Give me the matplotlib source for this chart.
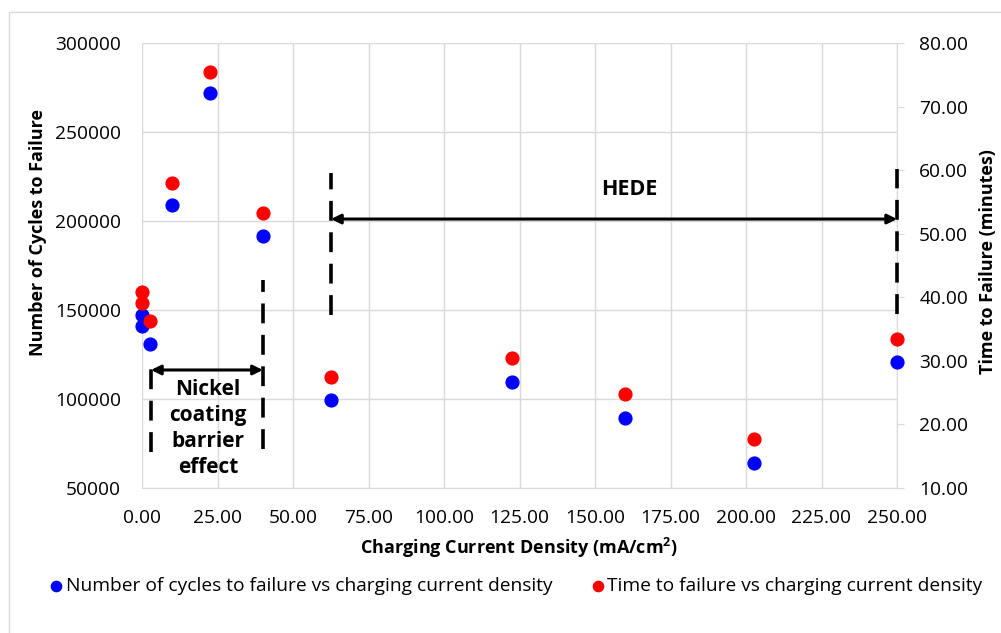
import numpy as np
import matplotlib
matplotlib.use("Agg")
import matplotlib.pyplot as plt
from matplotlib.patches import Rectangle

plt.rcParams['font.family'] = ['Open Sans', 'DejaVu Sans']

# data
current_density = [0.0, 0.0, 2.5, 10.0, 22.5, 40.0, 62.5, 122.5, 160.0, 202.5, 250.0]
cycles_to_failure = [147000, 141000, 131000, 209000, 272000, 191400, 99300, 109400, 89200, 63900, 120600]
time_to_failure = [40.8, 39.1, 36.3, 57.9, 75.5, 53.2, 27.5, 30.4, 24.8, 17.7, 33.4]

x_ticks = np.arange(0, 251, 25)
left_ticks = np.arange(50000, 300001, 50000)
right_ticks = np.arange(10, 81, 10)

grid_c = '#D9D9D9'
W, H = 1001, 633
fig = plt.figure(figsize=(W/100, H/100), dpi=100)
ax = fig.add_axes([142/W, 1-488/H, 755/W, 445/H])
ax2 = ax.twinx()
ax.set_xlim(0, 250)
ax.set_ylim(50000, 300000)
ax2.set_ylim(10, 80)
td = ax.transData

# outer chart border
fig.patches.append(Rectangle((9/W, -0.1), 1.2, 1.1 - 12/H,
                             transform=fig.transFigure, fill=False,
                             edgecolor=grid_c, lw=1, zorder=0))

# both series drawn on the top axes so they sit above the right spine
ax2.scatter(current_density, cycles_to_failure, s=85, color='#0000FF', zorder=3, clip_on=False,
            transform=td, label='Number of cycles to failure vs charging current density')
ax2.scatter(current_density, time_to_failure, s=85, color='#FF0000', zorder=3, clip_on=False,
            label='Time to failure vs charging current density')
ax2.set_ylim(10, 80)

ax.set_xticks(x_ticks)
ax.set_xticklabels([f'{v:.2f}' for v in x_ticks])
ax.set_yticks(left_ticks)
ax2.set_yticks(right_ticks)
ax2.set_yticklabels([f'{v:.2f}' for v in right_ticks])

ax.grid(True, color=grid_c, lw=1)
ax.set_axisbelow(True)
for a in (ax, ax2):
    for s in a.spines.values():
        s.set_visible(False)
ax.spines['bottom'].set_visible(True)
ax.spines['bottom'].set_color(grid_c)
ax2.spines['right'].set_visible(True)
ax2.spines['right'].set_color(grid_c)

ax.tick_params(axis='both', length=0, labelsize=13.8, colors='#000000')
ax.tick_params(axis='x', pad=15)
ax.tick_params(axis='y', pad=15)
ax2.tick_params(axis='y', length=5, color=grid_c, pad=11, labelsize=13.8)

# axis titles
fig.text(519/W, 1-548/H, 'Charging Current Density (mA/cm$^\\mathregular{2}$)',
         ha='center', va='center', fontsize=13, fontweight='bold')
fig.text(38/W, 1-233/H, 'Number of Cycles to Failure', rotation=90,
         ha='center', va='center', fontsize=13, fontweight='bold')
fig.text(988/W, 1-262/H, 'Time to Failure (minutes)', rotation=90,
         ha='center', va='center', fontsize=13, fontweight='bold')

# annotations (drawn on top axes, in left-axis units)
dash = dict(color='black', lw=2.6, dashes=(5.5, 3.2), zorder=4, transform=td, clip_on=False)
ax2.plot([3, 3], [70000, 121000], **dash)
ax2.plot([40, 40], [72000, 167000], **dash)
ax2.plot([62.6, 62.6], [147000, 227000], **dash)
ax2.plot([250, 250], [148000, 229000], **dash)

arrow = dict(arrowstyle='<|-|>', color='black', lw=2.2, mutation_scale=14, shrinkA=0, shrinkB=0)
ax2.annotate('', xy=(3, 116300), xytext=(40, 116300), xycoords=td, textcoords=td,
             arrowprops=arrow, annotation_clip=False)
ax2.annotate('', xy=(62.6, 201100), xytext=(250, 201100), xycoords=td, textcoords=td,
             arrowprops=arrow, annotation_clip=False)
ax2.text(21.8, 83500, 'Nickel\ncoating\nbarrier\neffect', transform=td, ha='center', va='center',
         fontsize=15, fontweight='bold', linespacing=1.32)
ax2.text(161.5, 217500, 'HEDE', transform=td, ha='center', va='center',
         fontsize=15.5, fontweight='bold')

h, l = ax2.get_legend_handles_labels()
fig.legend(h, l, loc='center', bbox_to_anchor=(515/W, 1-586/H), ncol=2,
           frameon=False, fontsize=13.8, handletextpad=0.05, columnspacing=1.9,
           markerscale=0.8, handlelength=0.9)

fig.savefig('out.png', dpi=100)
